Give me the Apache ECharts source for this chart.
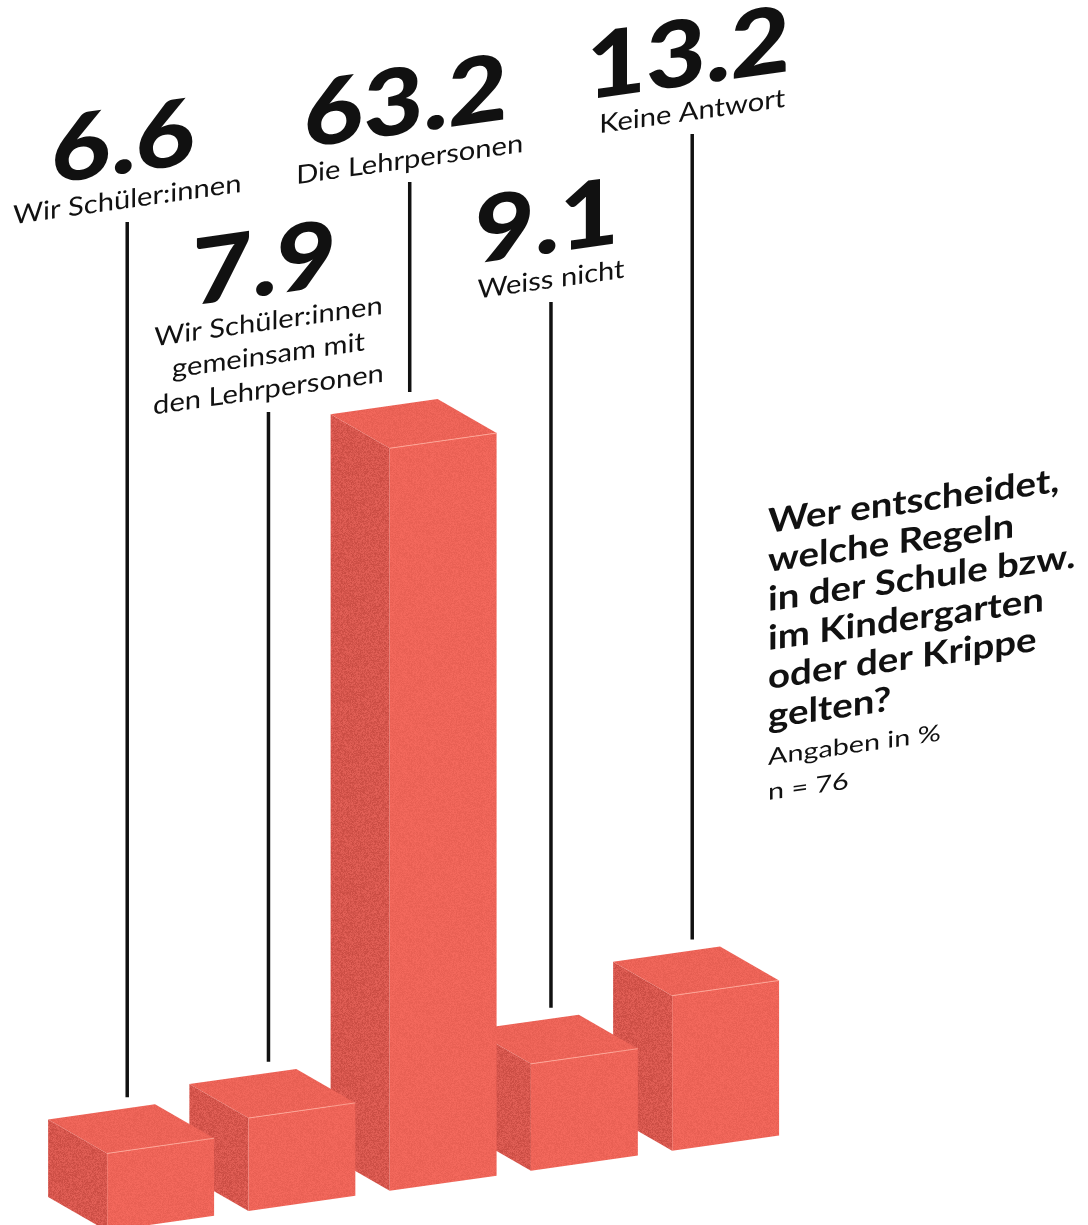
<!DOCTYPE html>
<html>
<head>
<meta charset="utf-8">
<script src="https://cdn.jsdelivr.net/npm/echarts@6/dist/echarts.min.js"></script>
<style>
  html, body { margin: 0; padding: 0; background: #ffffff; }
  #chart { width: 1088px; height: 1225px; }
</style>
</head>
<body>
<div id="chart"></div>
<script>
// ---- data ----
const categories = [
  'Wir Schüler:innen',
  'Wir Schüler:innen\ngemeinsam mit\nden Lehrpersonen',
  'Die Lehrpersonen',
  'Weiss nicht',
  'Keine Antwort'
];
const values = [6.6, 7.9, 63.2, 9.1, 13.2];
const valueLabels = ['6.6', '7.9', '63.2', '9.1', '13.2'];
const titleLines = [
  'Wer entscheidet,',
  'welche Regeln',
  'in der Schule bzw.',
  'im Kindergarten',
  'oder der Krippe',
  'gelten?'
];
const noteLines = ['Angaben in %', 'n = 76'];

// ---- layout ----
const SLOPE = 0.142;                 // the whole drawing is sheared upward to the right
const SKEW = Math.atan(SLOPE);
const leaderTop = [222, 412, 182, 302, 134];   // y where each leader line starts
const FONT = "Lato, 'Noto Sans', sans-serif";
const MID = 0.32;                    // em-box middle above the alphabetic baseline

const COLORS = {
  front: [238, 100, 88],
  top: [236, 99, 87],
  side: [214, 86, 77],
  edge: 'rgba(255, 170, 155, 0.85)',
  ink: '#111111'
};

// fine speckle texture, deterministic
function grain(rgb, amp, seed) {
  const size = 96;
  const c = document.createElement('canvas');
  c.width = c.height = size;
  const g = c.getContext('2d');
  const img = g.createImageData(size, size);
  let s = seed >>> 0;
  for (let k = 0; k < size * size; k++) {
    s = (Math.imul(s, 1664525) + 1013904223) >>> 0;
    const n = ((s >>> 24) / 255 - 0.5) * amp;
    img.data[k * 4] = rgb[0] + n;
    img.data[k * 4 + 1] = rgb[1] + n * 0.8;
    img.data[k * 4 + 2] = rgb[2] + n * 0.8;
    img.data[k * 4 + 3] = 255;
  }
  g.putImageData(img, 0, 0);
  return { image: c, repeat: 'repeat' };
}
const fillFront = grain(COLORS.front, 14, 11);
const fillTop = grain(COLORS.top, 14, 23);
const fillSide = grain(COLORS.side, 28, 37);

function textLine(str, x, baseline, font, fs, sx, align, z2) {
  return {
    type: 'text',
    x: x,
    y: baseline - MID * fs,
    skewY: SKEW,
    scaleX: sx,
    z2: z2,
    style: {
      text: str,
      font: font,
      fill: COLORS.ink,
      align: align,
      verticalAlign: 'middle'
    }
  };
}

function renderItem(params, api) {
  const i = params.dataIndex;
  const n = categories.length;
  const base = api.coord([i, 0]);
  const top = api.coord([i, api.value(1)]);
  const band = api.size([1, 0])[0];
  const x0 = params.coordSys.x;

  const w = band * 0.757;           // front face width
  const dx = -band * 0.418;         // depth offset
  const dy = -34;
  const xl = base[0] - w / 2;
  const xr = base[0] + w / 2;
  const shear = x => (x - x0) * SLOPE;
  const h = base[1] - top[1];
  const yBL = base[1] - shear(xl);
  const yBR = base[1] - shear(xr);
  const yTL = yBL - h;
  const yTR = yBR - h;

  const zb = (n - i) * 10;
  const children = [
    { type: 'polygon', z2: zb, shape: { points: [[xl + dx, yTL + dy], [xl, yTL], [xl, yBL], [xl + dx, yBL + dy]] },
      style: { fill: fillSide } },
    { type: 'polygon', z2: zb + 1, shape: { points: [[xl, yTL], [xr, yTR], [xr, yBR], [xl, yBL]] },
      style: { fill: fillFront } },
    { type: 'polygon', z2: zb + 2, shape: { points: [[xl, yTL], [xr, yTR], [xr + dx, yTR + dy], [xl + dx, yTL + dy]] },
      style: { fill: fillTop } },
    { type: 'line', z2: zb + 3, shape: { x1: xl, y1: yTL, x2: xr, y2: yTR },
      style: { stroke: COLORS.edge, lineWidth: 1 } }
  ];

  // leader line from the label down to just above the box
  const lx = xl + band * 0.142;
  const t = (lx - (xl + dx)) / w;
  const yBack = yTL + dy + (yTR - yTL) * t;
  children.push({
    type: 'line', z2: 200,
    shape: { x1: lx, y1: leaderTop[i], x2: lx, y2: yBack - 11 },
    style: { stroke: COLORS.ink, lineWidth: 3.5 }
  });

  // category text (one element per line) and the value above it
  const lines = categories[i].split('\n');
  const lastBase = leaderTop[i] - 14;
  lines.forEach((ln, k) => {
    const b = lastBase - (lines.length - 1 - k) * 34;
    children.push(textLine(ln, lx, b, '400 26px ' + FONT, 26, 1.12, 'center', 210));
  });
  const firstBase = lastBase - (lines.length - 1) * 34;
  children.push(textLine(valueLabels[i], lx - 4, firstBase - 35, '900 92px ' + FONT, 92, 1.12, 'center', 210));

  return { type: 'group', children: children };
}

const chart = echarts.init(document.getElementById('chart'), null, { renderer: 'canvas' });

const titleFs = 34, titleLH = 39;
const noteFs = 23, noteLH = 35;

chart.setOption({
  backgroundColor: '#ffffff',
  animation: false,
  grid: { left: 90, top: 58.4, width: 706.25, height: 1175, outerBoundsMode: 'none', containLabel: false },
  xAxis: { type: 'category', data: categories, show: false },
  yAxis: { type: 'value', min: 0, max: 100, show: false },
  series: [{
    type: 'custom',
    renderItem: renderItem,
    data: values.map((v, i) => [i, v]),
    encode: { x: 0, y: 1 },
    clip: false
  }],
  graphic: [
    {
      type: 'text',
      x: 768,
      y: 533 - MID * titleFs - titleLH / 2,
      skewY: SKEW,
      scaleX: 1.13,
      style: {
        text: titleLines.join('\n'),
        font: '700 ' + titleFs + 'px ' + FONT,
        lineHeight: titleLH,
        fill: COLORS.ink,
        align: 'left',
        verticalAlign: 'top'
      }
    },
    {
      type: 'text',
      x: 768,
      y: 765 - MID * noteFs - noteLH / 2,
      skewY: SKEW,
      scaleX: 1.25,
      style: {
        text: noteLines.join('\n'),
        font: '400 ' + noteFs + 'px ' + FONT,
        lineHeight: noteLH,
        fill: COLORS.ink,
        align: 'left',
        verticalAlign: 'top'
      }
    }
  ]
});
</script>
</body>
</html>
